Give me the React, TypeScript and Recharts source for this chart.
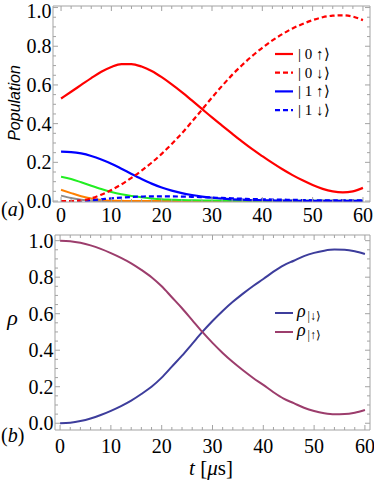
import { LineChart, Line, XAxis, YAxis, Legend } from 'recharts';

// time grid in microseconds
const times = [0, 2, 4, 6, 8, 10, 12, 14, 16, 18, 20, 22, 24, 26, 28, 30, 32, 34, 36, 38, 40, 42, 44, 46, 48, 50, 52, 54, 56, 58, 60];

// panel (a) populations
const pop0Up = [0.53, 0.565, 0.6, 0.635, 0.668, 0.693, 0.708, 0.708, 0.695, 0.672, 0.64, 0.603, 0.563, 0.52, 0.476, 0.432, 0.39, 0.348, 0.307, 0.268, 0.232, 0.197, 0.164, 0.134, 0.107, 0.083, 0.063, 0.05, 0.045, 0.05, 0.068];
const pop0Down = [0, 0, 0.003, 0.014, 0.033, 0.057, 0.086, 0.12, 0.157, 0.198, 0.244, 0.295, 0.35, 0.41, 0.472, 0.535, 0.595, 0.652, 0.703, 0.75, 0.792, 0.83, 0.863, 0.892, 0.915, 0.935, 0.95, 0.958, 0.96, 0.953, 0.935];
const pop1Up = [0.255, 0.253, 0.246, 0.233, 0.215, 0.193, 0.167, 0.14, 0.114, 0.09, 0.07, 0.054, 0.041, 0.031, 0.023, 0.017, 0.012, 0.009, 0.007, 0.005, 0.004, 0.003, 0.002, 0.002, 0.001, 0.001, 0.001, 0.001, 0.001, 0.001, 0.001];
const pop1Down = [0, 0, 0.001, 0.004, 0.009, 0.014, 0.018, 0.021, 0.023, 0.024, 0.024, 0.024, 0.023, 0.022, 0.02, 0.018, 0.016, 0.014, 0.012, 0.01, 0.009, 0.008, 0.007, 0.006, 0.005, 0.004, 0.004, 0.003, 0.003, 0.003, 0.003];
const popGreen = [0.125, 0.114, 0.097, 0.079, 0.062, 0.047, 0.035, 0.026, 0.019, 0.013, 0.009, 0.007, 0.005, 0.004, 0.003, 0.003, 0.002, 0.002, 0.002, 0.002, 0.001, 0.001, 0.001, 0.001, 0.001, 0.001, 0.001, 0.001, 0.001, 0.001, 0.001];
const popOrange = [0.058, 0.041, 0.025, 0.013, 0.006, 0.002, 0.001, 0, 0, 0, 0, 0, 0, 0, 0, 0, 0, 0, 0, 0, 0, 0, 0, 0, 0, 0, 0, 0, 0, 0, 0];
const popGray = [0.028, 0.016, 0.007, 0.002, 0, 0, 0, 0, 0, 0, 0, 0, 0, 0, 0, 0, 0, 0, 0, 0, 0, 0, 0, 0, 0, 0, 0, 0, 0, 0, 0];

// panel (b)
const rhoDown = [0, 0.003, 0.012, 0.026, 0.045, 0.068, 0.094, 0.124, 0.16, 0.2, 0.25, 0.31, 0.37, 0.435, 0.5, 0.56, 0.615, 0.665, 0.71, 0.752, 0.79, 0.83, 0.865, 0.89, 0.915, 0.933, 0.945, 0.951, 0.95, 0.942, 0.927];
const rhoUp = [1, 0.997, 0.988, 0.974, 0.955, 0.932, 0.906, 0.876, 0.84, 0.8, 0.75, 0.69, 0.63, 0.565, 0.5, 0.44, 0.385, 0.335, 0.29, 0.248, 0.21, 0.17, 0.135, 0.11, 0.085, 0.067, 0.055, 0.049, 0.05, 0.058, 0.073];

const xTicks = [0, 2, 4, 6, 8, 10, 12, 14, 16, 18, 20, 22, 24, 26, 28, 30, 32, 34, 36, 38, 40, 42, 44, 46, 48, 50, 52, 54, 56, 58, 60];
const xLabels = [0, 10, 20, 30, 40, 50, 60];
const yTicks = [0, 0.05, 0.1, 0.15, 0.2, 0.25, 0.3, 0.35, 0.4, 0.45, 0.5, 0.55, 0.6, 0.65, 0.7, 0.75, 0.8, 0.85, 0.9, 0.95, 1];
const yLabels = [0, 0.2, 0.4, 0.6, 0.8, 1];

const topLegend = [
  { name: '| 0 ↑⟩', color: '#ff0000', dash: '' },
  { name: '| 0 ↓⟩', color: '#ff0000', dash: '5 3' },
  { name: '| 1 ↑⟩', color: '#0000ff', dash: '' },
  { name: '| 1 ↓⟩', color: '#0000ff', dash: '5 3' },
];
const bottomLegend = [
  { sub: '|↓⟩', color: '#3d3d9c' },
  { sub: '|↑⟩', color: '#9c3d6c' },
];

const popData = times.map((t, i) => ({
  t,
  up0: pop0Up[i],
  down0: pop0Down[i],
  up1: pop1Up[i],
  down1: pop1Down[i],
  green: popGreen[i],
  orange: popOrange[i],
  gray: popGray[i],
}));
const rhoData = times.map((t, i) => ({ t, down: rhoDown[i], up: rhoUp[i] }));

const FRAME = '#a3a3a3';
const SERIF = 'Liberation Serif';

const isMajorX = (v: number) => xLabels.includes(v);
const isMajorY = (v: number) => yLabels.some((l) => Math.abs(l - v) < 1e-6);

// ticks point inward, labels only on bottom / left
const bottomTick = (labelDy: number) => (p: any) => {
  const major = isMajorX(p.payload.value);
  return (
    <g>
      <line x1={p.x} x2={p.x} y1={p.y} y2={p.y - (major ? 5 : 3)} stroke={FRAME} />
      {major && (
        <text x={p.x} y={p.y + labelDy} textAnchor="middle" fontSize={20} fontFamily={SERIF} fill="#000">
          {p.payload.value}
        </text>
      )}
    </g>
  );
};
const topTick = (p: any) => {
  const major = isMajorX(p.payload.value);
  return <line x1={p.x} x2={p.x} y1={p.y} y2={p.y + (major ? 5 : 3)} stroke={FRAME} />;
};
const leftTick = (p: any) => {
  const major = isMajorY(p.payload.value);
  return (
    <g>
      <line x1={p.x} x2={p.x + (major ? 5 : 3)} y1={p.y} y2={p.y} stroke={FRAME} />
      {major && (
        // keep the top label inside the page, as the original does
        <text x={p.x - 1.5} y={Math.max(p.y + 7, 17.5)} textAnchor="end" fontSize={20} fontFamily={SERIF} fill="#000">
          {p.payload.value.toFixed(1)}
        </text>
      )}
    </g>
  );
};
const rightTick = (p: any) => {
  const major = isMajorY(p.payload.value);
  return <line x1={p.x} x2={p.x - (major ? 5 : 3)} y1={p.y} y2={p.y} stroke={FRAME} />;
};

const TopLegend = () => (
  <svg width={70} height={80}>
    {topLegend.map((it, i) => (
      <g key={i}>
        <line x1={0} x2={18} y1={9 + i * 18.7} y2={9 + i * 18.7} stroke={it.color} strokeWidth={2.2} strokeDasharray={it.dash || undefined} />
        <text x={23} y={14 + i * 18.7} fontSize={15} fontFamily={SERIF} fill="#000">{it.name}</text>
      </g>
    ))}
  </svg>
);

const BottomLegend = () => (
  <svg width={70} height={54}>
    {bottomLegend.map((it, i) => (
      <g key={i}>
        <line x1={0} x2={18} y1={14 + i * 19} y2={14 + i * 19} stroke={it.color} strokeWidth={2} />
        <text x={22} y={18 + i * 19} fontSize={18} fontStyle="italic" fontFamily={SERIF} fill="#000">ρ</text>
        <text x={32.5} y={21 + i * 19} fontSize={12} fontFamily={SERIF} fill="#000">{it.sub}</text>
      </g>
    ))}
  </svg>
);

const App = () => {
  return (
    <div style={{ position: 'absolute', left: 0, top: 0, width: 374, height: 483, background: '#fff' }}>
      <div style={{ position: 'absolute', left: 0, top: 0 }}>
        <LineChart width={374} height={225} data={popData} margin={{ top: 5, right: 3, bottom: 22, left: 52 }}>
          <XAxis dataKey="t" type="number" domain={[-1.6, 61.4]} allowDataOverflow ticks={xTicks} interval={0}
            height={1} tickSize={0} tickMargin={0} tickLine={false} axisLine={{ stroke: FRAME }} tick={bottomTick(19.5)} />
          <XAxis xAxisId="top" orientation="top" dataKey="t" type="number" domain={[-1.6, 61.4]} allowDataOverflow ticks={xTicks} interval={0}
            height={1} tickSize={0} tickMargin={0} tickLine={false} axisLine={{ stroke: FRAME }} tick={topTick} />
          <YAxis type="number" domain={[-0.005, 1.008]} allowDataOverflow ticks={yTicks} interval={0}
            width={1} tickSize={0} tickMargin={0} tickLine={false} axisLine={{ stroke: FRAME }} tick={leftTick} />
          <YAxis yAxisId="r" orientation="right" type="number" domain={[-0.005, 1.008]} allowDataOverflow ticks={yTicks} interval={0}
            width={1} tickSize={0} tickMargin={0} tickLine={false} axisLine={{ stroke: FRAME }} tick={rightTick} />
          <Line dataKey="gray" type="monotone" stroke="#8c8c8c" strokeWidth={2} dot={false} isAnimationActive={false} />
          <Line dataKey="orange" type="monotone" stroke="#ff8000" strokeWidth={2} dot={false} isAnimationActive={false} />
          <Line dataKey="green" type="monotone" stroke="#22ee22" strokeWidth={2} dot={false} isAnimationActive={false} />
          <Line dataKey="down1" type="monotone" stroke="#0000ff" strokeWidth={2.2} strokeDasharray="5 3" dot={false} isAnimationActive={false} />
          <Line dataKey="up1" type="monotone" stroke="#0000ff" strokeWidth={2.2} dot={false} isAnimationActive={false} />
          <Line dataKey="down0" type="monotone" stroke="#ff0000" strokeWidth={2.2} strokeDasharray="5 3" dot={false} isAnimationActive={false} />
          <Line dataKey="up0" type="monotone" stroke="#ff0000" strokeWidth={2.2} dot={false} isAnimationActive={false} />
          <Legend layout="vertical" align="center" verticalAlign="middle" wrapperStyle={{ left: 275, top: 45, width: 70 }} content={() => <TopLegend />} />
        </LineChart>
      </div>
      <div style={{ position: 'absolute', left: 0, top: 225 }}>
        <LineChart width={374} height={258} data={rhoData} margin={{ top: 9, right: 3, bottom: 52, left: 54 }}>
          <XAxis dataKey="t" type="number" domain={[-1, 61]} allowDataOverflow ticks={xTicks} interval={0}
            height={1} tickSize={0} tickMargin={0} tickLine={false} axisLine={{ stroke: FRAME }} tick={bottomTick(23)} />
          <XAxis xAxisId="top" orientation="top" dataKey="t" type="number" domain={[-1, 61]} allowDataOverflow ticks={xTicks} interval={0}
            height={1} tickSize={0} tickMargin={0} tickLine={false} axisLine={{ stroke: FRAME }} tick={topTick} />
          <YAxis type="number" domain={[-0.037, 1.031]} allowDataOverflow ticks={yTicks} interval={0}
            width={1} tickSize={0} tickMargin={0} tickLine={false} axisLine={{ stroke: FRAME }} tick={leftTick} />
          <YAxis yAxisId="r" orientation="right" type="number" domain={[-0.037, 1.031]} allowDataOverflow ticks={yTicks} interval={0}
            width={1} tickSize={0} tickMargin={0} tickLine={false} axisLine={{ stroke: FRAME }} tick={rightTick} />
          <Line dataKey="down" type="monotone" stroke="#3d3d9c" strokeWidth={2} dot={false} isAnimationActive={false} />
          <Line dataKey="up" type="monotone" stroke="#9c3d6c" strokeWidth={2} dot={false} isAnimationActive={false} />
          <Legend layout="vertical" align="center" verticalAlign="middle" wrapperStyle={{ left: 275, top: 74, width: 70 }} content={() => <BottomLegend />} />
        </LineChart>
      </div>
      {/* panel and axis labels */}
      <svg width={374} height={483} style={{ position: 'absolute', left: 0, top: 0, pointerEvents: 'none' }}>
        <text x={1} y={216} fontSize={20} fontFamily={SERIF} fill="#000">(<tspan fontStyle="italic">a</tspan>)</text>
        <text x={1} y={442} fontSize={20} fontFamily={SERIF} fill="#000">(<tspan fontStyle="italic">b</tspan>)</text>
        <text transform="translate(20,103) rotate(-90)" textAnchor="middle" fontSize={16} fontStyle="italic"
          fontFamily="Liberation Sans" fill="#000">Population</text>
        <text x={12.5} y={325} textAnchor="middle" fontSize={22} fontStyle="italic" fontFamily={SERIF} fill="#000">ρ</text>
        <text x={211} y={475} textAnchor="middle" fontSize={21} fontFamily={SERIF} fill="#000">
          <tspan fontStyle="italic">t</tspan> [<tspan fontStyle="italic">μ</tspan>s]
        </text>
      </svg>
    </div>
  );
};

export default App;
